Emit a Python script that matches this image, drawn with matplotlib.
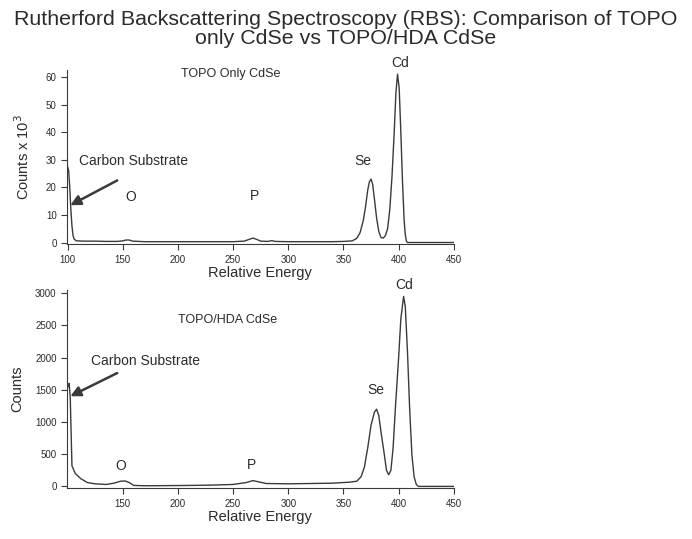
import matplotlib
matplotlib.use('Agg')
import matplotlib.pyplot as plt

plt.rcParams['font.family'] = ['Liberation Sans Narrow', 'Liberation Sans', 'DejaVu Sans']

# TOPO only CdSe spectrum (counts x 10^3)
energia_topo = [100, 101, 102, 103, 104, 105, 106, 108, 115, 125, 135, 145, 150, 153, 156,
                159, 170, 190, 210, 230, 250, 260, 265, 268, 271, 275, 282, 285, 288, 300,
                320, 340, 350, 358, 362, 365, 368, 370, 372, 373.5, 375, 376.5, 378, 380,
                382, 384, 386, 388, 390, 392, 394, 396, 397.5, 399, 400.5, 402, 403.5, 405,
                406, 407, 408, 450]
cuentas_topo = [27.5, 26, 20, 12, 6, 2.5, 1.2, 0.6, 0.5, 0.5, 0.4, 0.4, 0.6, 0.9, 0.9,
                0.5, 0.3, 0.3, 0.3, 0.3, 0.3, 0.5, 1.2, 1.6, 1.2, 0.5, 0.4, 0.7, 0.4, 0.3,
                0.3, 0.3, 0.4, 0.6, 1.5, 3.5, 8, 13, 19, 22, 23, 21, 16, 9,
                4, 1.8, 1.6, 2.5, 5, 12, 24, 40, 54, 61, 56, 40, 22, 8,
                3, 0.5, 0, 0]

# TOPO/HDA CdSe spectrum (counts)
energia_hda = [100.5, 101.5, 102.5, 104, 107, 112, 118, 125, 135, 142, 148, 152, 156, 160,
               170, 190, 210, 230, 250, 262, 268, 272, 280, 300, 320, 340, 355, 362, 366,
               369, 372, 375, 378, 380, 382, 384, 387, 389, 391, 393, 395, 397, 400, 402,
               404.5, 406, 408, 410, 412, 414, 416, 418, 450]
cuentas_hda = [1550, 1600, 1350, 320, 200, 120, 60, 40, 30, 50, 80, 85, 60, 15,
               10, 12, 15, 20, 30, 60, 90, 75, 45, 40, 45, 50, 65, 80, 150,
               300, 600, 950, 1150, 1200, 1100, 850, 500, 250, 180, 250, 600, 1200, 2000, 2600,
               2950, 2800, 2100, 1200, 500, 150, 30, 0, 0]

color_linea = '#3a3a3a'
color_texto = '#2b2b2b'

fig = plt.figure(figsize=(6.92, 5.39), dpi=100)
fig.text(0.5, 0.982, 'Rutherford Backscattering Spectroscopy (RBS): Comparison of TOPO\n'
         'only CdSe vs TOPO/HDA CdSe', ha='center', va='top', fontsize=15.4,
         color=color_texto, linespacing=1.05)

ax1 = fig.add_axes([0.0968, 0.547, 0.559, 0.323])
ax2 = fig.add_axes([0.0968, 0.094, 0.559, 0.368])

for ax in (ax1, ax2):
    ax.spines['top'].set_visible(False)
    ax.spines['right'].set_visible(False)
    ax.spines['left'].set_color(color_linea)
    ax.spines['bottom'].set_color(color_linea)
    ax.tick_params(direction='out', length=4, width=0.8, labelsize=7,
                   colors=color_linea, labelcolor=color_texto)
    ax.set_xlim(99.5, 450)

ax1.plot(energia_topo, cuentas_topo, color=color_linea, lw=1.0)
ax1.set_ylim(-0.6, 62.5)
ax1.set_xticks([100, 150, 200, 250, 300, 350, 400, 450])
ax1.set_yticks([0, 10, 20, 30, 40, 50, 60])
ax1.set_xlabel('Relative Energy', fontsize=10.5, color=color_texto, labelpad=1)
ax1.set_ylabel('Counts x 10$^3$', fontsize=10.5, color=color_texto, labelpad=10)
ax1.text(248, 61, 'TOPO Only CdSe', ha='center', va='center', fontsize=9, color=color_texto)
ax1.text(401, 65, 'Cd', ha='center', va='center', fontsize=10, color=color_texto, clip_on=False)
ax1.text(368, 29.5, 'Se', ha='center', va='center', fontsize=10, color=color_texto)
ax1.text(157, 16.5, 'O', ha='center', va='center', fontsize=10, color=color_texto)
ax1.text(269, 16.8, 'P', ha='center', va='center', fontsize=10, color=color_texto)
ax1.text(110, 29.5, 'Carbon Substrate', fontsize=10, color=color_texto, va='center', ha='left')
ax1.annotate('', xy=(102.5, 13.5), xytext=(145, 22.5),
             arrowprops=dict(arrowstyle='-|>', color=color_linea, lw=1.8,
                             mutation_scale=15, shrinkA=0, shrinkB=0))

ax2.plot(energia_hda, cuentas_hda, color=color_linea, lw=1.0)
ax2.set_ylim(-30, 3050)
ax2.set_xticks([150, 200, 250, 300, 350, 400, 450])
ax2.set_yticks([0, 500, 1000, 1500, 2000, 2500, 3000])
ax2.set_xlabel('Relative Energy', fontsize=10.5, color=color_texto, labelpad=1)
ax2.set_ylabel('Counts', fontsize=10.5, color=color_texto, labelpad=8)
ax2.text(245, 2590, 'TOPO/HDA CdSe', ha='center', va='center', fontsize=9, color=color_texto)
ax2.text(405, 3120, 'Cd', ha='center', va='center', fontsize=10, color=color_texto, clip_on=False)
ax2.text(379, 1500, 'Se', ha='center', va='center', fontsize=10, color=color_texto)
ax2.text(148, 320, 'O', ha='center', va='center', fontsize=10, color=color_texto)
ax2.text(267, 340, 'P', ha='center', va='center', fontsize=10, color=color_texto)
ax2.text(121, 1950, 'Carbon Substrate', ha='left', va='center', fontsize=10, color=color_texto)
ax2.annotate('', xy=(102.5, 1400), xytext=(145, 1760),
             arrowprops=dict(arrowstyle='-|>', color=color_linea, lw=1.8,
                             mutation_scale=15, shrinkA=0, shrinkB=0))

fig.savefig('out.png', dpi=100, facecolor='white')
